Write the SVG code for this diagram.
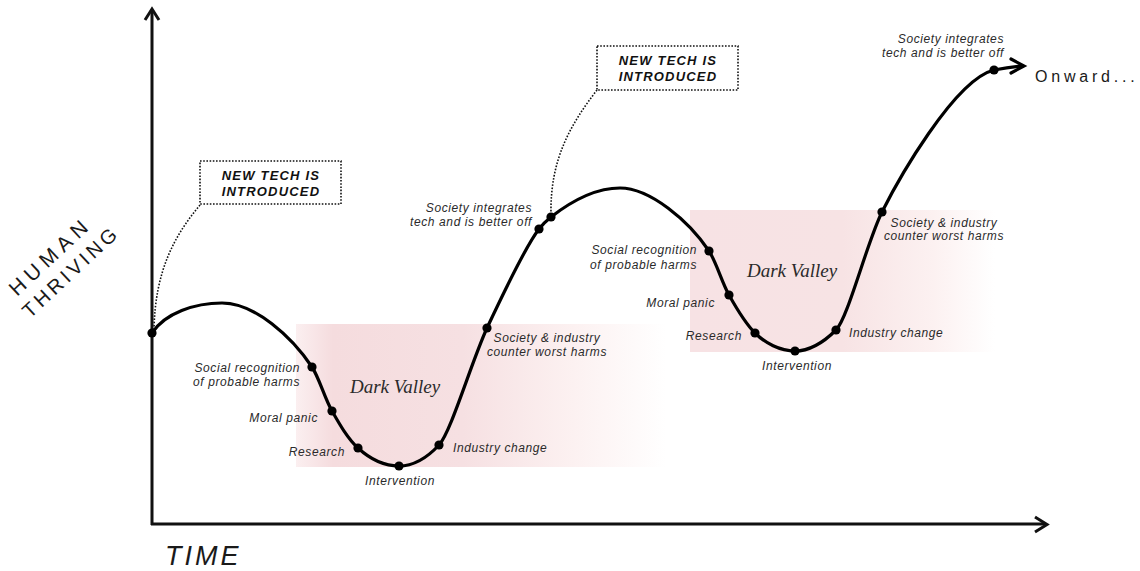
<svg xmlns="http://www.w3.org/2000/svg" width="1140" height="571" viewBox="0 0 1140 571">
<style>
.lbl{font-family:"Liberation Sans",Arial,sans-serif;font-style:italic;font-size:12px;letter-spacing:0.6px;fill:#2a2a2a}
.end{text-anchor:end}
.mid{text-anchor:middle}
.dv{font-family:"Liberation Serif","Times New Roman",serif;font-style:italic;font-size:19px;fill:#2a2a2a}
.box{fill:#fff;stroke:#111;stroke-width:1.6;stroke-dasharray:1.6 1.6}
.boxt{font-family:"Liberation Sans",Arial,sans-serif;font-style:italic;font-weight:bold;font-size:13px;letter-spacing:1.2px;fill:#111;text-anchor:middle}
.lead{fill:none;stroke:#111;stroke-width:1.6;stroke-dasharray:1.6 1.6}
.axis{fill:none;stroke:#111;stroke-width:3}
.curve{fill:none;stroke:#000;stroke-width:3.2;stroke-linecap:round}
.dot{fill:#000}
.big{font-family:"Liberation Sans",Arial,sans-serif;fill:#1a1a1a}
</style>
<defs>
<linearGradient id="pink1" x1="0" y1="0" x2="1" y2="0">
<stop offset="0" stop-color="#fbeff0"/>
<stop offset="0.1" stop-color="#f5dcde"/>
<stop offset="0.45" stop-color="#f6e0e2"/>
<stop offset="0.75" stop-color="#fcf1f1"/>
<stop offset="1" stop-color="#ffffff"/>
</linearGradient>
<linearGradient id="pink2" x1="0" y1="0" x2="1" y2="0">
<stop offset="0" stop-color="#f7e2e4"/>
<stop offset="0.5" stop-color="#f7e3e4"/>
<stop offset="0.8" stop-color="#fcf1f1"/>
<stop offset="1" stop-color="#ffffff"/>
</linearGradient>
</defs>
<rect width="1140" height="571" fill="#fff"/>
<g id="shading">
<rect x="296" y="324" width="370" height="143" fill="url(#pink1)"/>
<rect x="690" y="210" width="305" height="142" fill="url(#pink2)"/>
</g>
<g id="axes">
<path class="axis" d="M152,10 V525 M151,524 H1046"/>
<path class="axis" d="M145,20 L152,9 L159,20"/>
<path class="axis" d="M1035,517 L1047,524.5 L1035,532"/>
</g>
<g id="axis-labels">
<text class="big" font-size="21" letter-spacing="5.5" transform="translate(17,297) rotate(-43)">HUMAN</text>
<text class="big" font-size="20" letter-spacing="3.6" transform="translate(30,319) rotate(-43)">THRIVING</text>
<text class="big" x="165" y="565" font-size="27" font-style="italic" letter-spacing="3">TIME</text>
</g>
<g id="connectors">
<path class="lead" d="M200,205 C175,235 155,270 154,330"/>
<path class="lead" d="M597,90 C570,125 550,160 551,214"/>
<path class="curve" d="M152,333 C165,313 195,303 222,303 C255,303 292,337 312,367 C319,377.5 325,399 332,411 C340,425 348,439 358,448 C370,459 385,466 399,466 C413,466 427,458 439,445 C451,432 471,363 487,328 C502,296 525,247 539,229 C543,224 546,221 551,217 C569,203 595,188 620,188 C650,188 689,221 709,251 C716,261.5 722,282.5 729,295 C736,307.5 745,323 755,333 C765,343 780,351 795,351 C810,351 824,342 836,330 C848,318 867,242 882,212 C897,182 954,80 994,70 C1004,68 1014,66.5 1023,66"/>
<path class="curve" d="M1011,59 L1024,66 L1011,73" stroke-linejoin="miter"/>
</g>
<g id="box1">
<rect class="box" x="200" y="161" width="141" height="43"/>
<text class="boxt" x="271" y="180">NEW TECH IS</text>
<text class="boxt" x="271" y="196">INTRODUCED</text>
</g>
<g id="box2">
<rect class="box" x="597" y="46" width="141" height="44"/>
<text class="boxt" x="668" y="65">NEW TECH IS</text>
<text class="boxt" x="668" y="81">INTRODUCED</text>
</g>
<g id="dots">
<circle class="dot" cx="152" cy="333" r="4.6"/>
<circle class="dot" cx="312" cy="367" r="4.6"/>
<circle class="dot" cx="332" cy="411" r="4.6"/>
<circle class="dot" cx="358" cy="448" r="4.6"/>
<circle class="dot" cx="399" cy="466" r="4.6"/>
<circle class="dot" cx="439" cy="445" r="4.6"/>
<circle class="dot" cx="487" cy="328" r="4.6"/>
<circle class="dot" cx="539" cy="229" r="4.6"/>
<circle class="dot" cx="551" cy="217" r="4.6"/>
<circle class="dot" cx="709" cy="251" r="4.6"/>
<circle class="dot" cx="729" cy="295" r="4.6"/>
<circle class="dot" cx="755" cy="333" r="4.6"/>
<circle class="dot" cx="795" cy="351" r="4.6"/>
<circle class="dot" cx="836" cy="330" r="4.6"/>
<circle class="dot" cx="882" cy="212" r="4.6"/>
<circle class="dot" cx="994" cy="70" r="4.6"/>
</g>
<g id="valley1">
<text class="dv" x="350" y="393">Dark Valley</text>
<text class="lbl end" x="300" y="372">Social recognition</text>
<text class="lbl end" x="300" y="386">of probable harms</text>
<text class="lbl end" x="318" y="422">Moral panic</text>
<text class="lbl end" x="345" y="456">Research</text>
<text class="lbl mid" x="400" y="485">Intervention</text>
<text class="lbl" x="453" y="452">Industry change</text>
<text class="lbl mid" x="547" y="342">Society &amp; industry</text>
<text class="lbl mid" x="547" y="356">counter worst harms</text>
</g>
<g id="peak2">
<text class="lbl end" x="532" y="212">Society integrates</text>
<text class="lbl end" x="532" y="226">tech and is better off</text>
</g>
<g id="valley2">
<text class="dv" x="747" y="277">Dark Valley</text>
<text class="lbl end" x="697" y="254">Social recognition</text>
<text class="lbl end" x="697" y="269">of probable harms</text>
<text class="lbl end" x="715" y="307">Moral panic</text>
<text class="lbl end" x="742" y="340">Research</text>
<text class="lbl mid" x="797" y="370">Intervention</text>
<text class="lbl" x="849" y="337">Industry change</text>
<text class="lbl mid" x="944" y="227">Society &amp; industry</text>
<text class="lbl mid" x="944" y="240">counter worst harms</text>
</g>
<g id="end">
<text class="lbl end" x="1004" y="43">Society integrates</text>
<text class="lbl end" x="1004" y="57">tech and is better off</text>
<text class="big" x="1035" y="82" font-size="16" letter-spacing="3.8">Onward...</text>
</g>
</svg>
